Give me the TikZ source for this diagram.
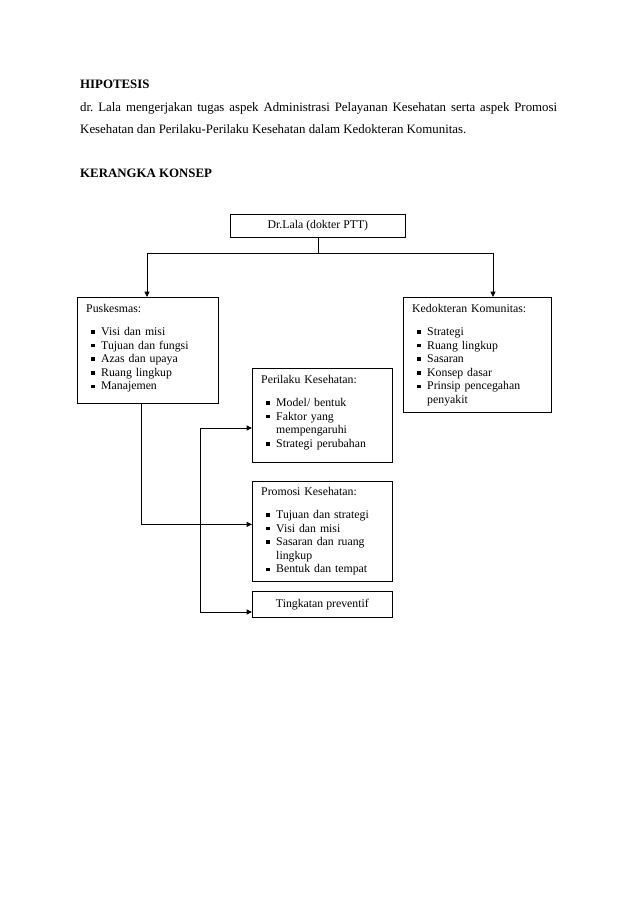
\documentclass[tikz,border=0pt]{standalone}
\usepackage{fontspec}
\setmainfont{Liberation Serif}
\usetikzlibrary{arrows.meta,calc}
\def\pxu{0.933pt}
\newcommand\bitem[1]{\par\hangindent=14pt\hangafter=1\noindent\hbox to 14pt{\hspace{4.6pt}\rule[1.7pt]{3.3pt}{3.3pt}\hfil}#1\par}
\newcommand\bhead[1]{\noindent #1\par\vspace{8.6pt}}
\begin{document}
\frenchspacing
\hyphenpenalty=10000
\exhyphenpenalty=10000
\begin{tikzpicture}[x=0.933pt,y=-0.933pt,
  box/.style={draw, line width=0.75pt, inner sep=0pt, anchor=north west},
  ln/.style={line width=0.75pt},
  arr/.style={line width=0.75pt, -{Triangle[length=5pt,width=4.6pt]}},
  arrb/.style={line width=0.75pt, {Triangle[length=5pt,width=4.6pt]}-{Triangle[length=5pt,width=4.6pt]}},
  body/.style={anchor=base west, inner sep=0pt, font=\fontsize{12}{14.4}\selectfont},
  small/.style={font=\fontsize{11}{12.65}\selectfont},
  boxtext/.style={anchor=north west, inner sep=0pt, text width=#1, align=left, font=\fontsize{11}{12.65}\selectfont}]
\fill[white] (0,0) rectangle (638,903);
\useasboundingbox (0,0) rectangle (638,903);

% heading texts
\node[body, font=\fontsize{12}{14.4}\selectfont\bfseries] (hip) at (80,88) {HIPOTESIS};
\node[body] (l1) at (80,111) {\parbox[b]{445pt}{\parfillskip=0pt\noindent dr. Lala mengerjakan tugas aspek Administrasi Pelayanan Kesehatan serta aspek Promosi}};
\node[body] (l2) at (80,133) {Kesehatan dan Perilaku-Perilaku Kesehatan dalam Kedokteran Komunitas.};
\node[body, font=\fontsize{12}{14.4}\selectfont\bfseries] (kk) at (80,177) {KERANGKA KONSEP};

% boxes
\node[box, small, minimum width=175*\pxu, minimum height=23*\pxu] (dr) at (230,214) {Dr.Lala (dokter PTT)};
\node[box, minimum width=141*\pxu, minimum height=106*\pxu] (pusk) at (77,297) {};
\node[box, minimum width=148*\pxu, minimum height=115*\pxu] (kom) at (403,297) {};
\node[box, minimum width=140*\pxu, minimum height=94*\pxu] (peri) at (252,368) {};
\node[box, minimum width=140*\pxu, minimum height=100*\pxu] (promo) at (252,481) {};
\node[box, small, minimum width=140*\pxu, minimum height=26*\pxu] (ting) at (252,591) {Tingkatan preventif};

% box contents
\node[boxtext=124*\pxu] (puskt) at ($(pusk.north west)+(9,7.5)$) {\bhead{Puskesmas:}\bitem{Visi dan misi}\bitem{Tujuan dan fungsi}\bitem{Azas dan upaya}\bitem{Ruang lingkup}\bitem{Manajemen}};
\node[boxtext=134*\pxu] (komt) at ($(kom.north west)+(9,7.5)$) {\bhead{Kedokteran Komunitas:}\bitem{Strategi}\bitem{Ruang lingkup}\bitem{Sasaran}\bitem{Konsep dasar}\bitem{Prinsip pencegahan penyakit}};
\node[boxtext=126*\pxu] (perit) at ($(peri.north west)+(9,7.5)$) {\bhead{Perilaku Kesehatan:}\bitem{Model/ bentuk}\bitem{Faktor yang mempengaruhi}\bitem{Strategi perubahan}};
\node[boxtext=126*\pxu] (promot) at ($(promo.north west)+(9,6.5)$) {\bhead{Promosi Kesehatan:}\bitem{Tujuan dan strategi}\bitem{Visi dan misi}\bitem{Sasaran dan ruang lingkup}\bitem{Bentuk dan tempat}};

% connectors
\coordinate (jl) at (147,253);
\coordinate (jr) at (493,253);
\draw[ln] (dr.south) -- (dr.south |- jl);
\draw[ln] (jl) -- (jr);
\draw[arr] (jl) -- (jl |- pusk.north);
\draw[arr] (jr) -- (jr |- kom.north);

\coordinate (ps) at ($(pusk.south)+(-6.5,0)$);
\coordinate (pt) at ($(promo.west)+(0,-7)$);
\draw[arr] (ps) |- (pt);

\coordinate (v1) at (200,428);
\coordinate (v2) at (200,612);
\draw[arrb] (v1 -| peri.west) -- (v1) -- (v2) -- (v2 -| ting.west);
\end{tikzpicture}
\end{document}
